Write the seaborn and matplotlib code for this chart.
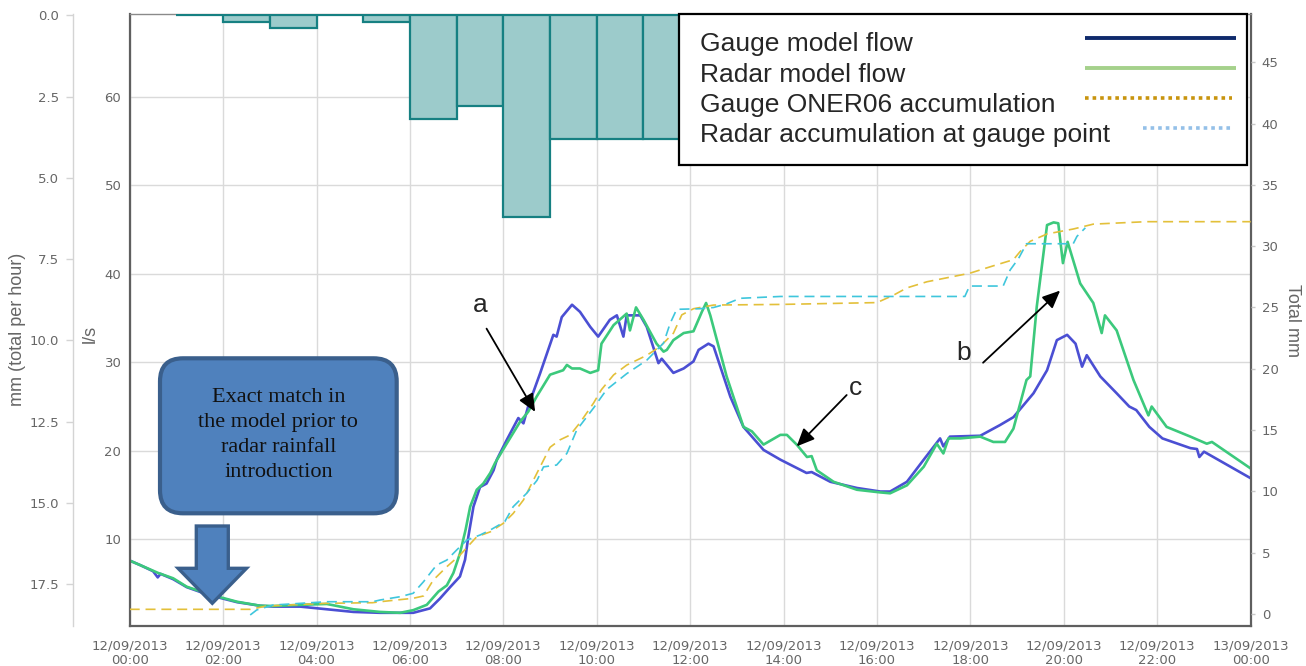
import numpy as np
import pandas as pd
import matplotlib
matplotlib.use("Agg")
import matplotlib.pyplot as plt
import seaborn as sns
from matplotlib.lines import Line2D
from matplotlib.legend_handler import HandlerLine2D
from matplotlib.patches import FancyBboxPatch, FancyArrow
from matplotlib.ticker import FuncFormatter, FormatStrFormatter, MultipleLocator

START = pd.Timestamp("2013-09-12 00:00")

# --------------------------------------------------------------------------- #
# Data (hours from 12/09/2013 00:00)
# --------------------------------------------------------------------------- #
# hourly gauge rainfall, bar covers [hour, hour + 1)
rain_hour = [1, 2, 3, 4, 5, 6, 7, 8, 9, 10, 11]
rain_mm = [0.0, 0.2, 0.4, 0.0, 0.2, 3.2, 2.8, 6.2, 3.8, 3.8, 3.8]

# gauge model flow (l/s)
gauge_flow_t = [0.0, 0.22, 0.5, 0.6, 0.66, 0.93, 1.22, 1.7, 2.3, 2.79, 3.08, 3.65,
                4.22, 4.79, 5.36, 6.07, 6.43, 6.64, 6.86, 7.07, 7.18, 7.25, 7.36,
                7.5, 7.64, 7.79, 7.86, 8.07, 8.32, 8.43, 8.53, 8.79, 9.07, 9.14, 9.25,
                9.47, 9.64, 9.86, 10.03, 10.28, 10.43, 10.57, 10.64, 10.93, 11.07,
                11.32, 11.39, 11.64, 11.86, 12.07, 12.18, 12.39, 12.5, 12.86, 13.14,
                13.57, 13.93, 14.49, 14.6, 15.0, 15.57, 16.07, 16.28, 16.64, 17.0,
                17.35, 17.42, 17.56, 18.21, 18.63, 18.92, 19.35, 19.64, 19.85, 20.07,
                20.25, 20.39, 20.49, 20.78, 21.13, 21.4, 21.55, 21.83, 22.11, 22.71,
                22.85, 22.9, 23.0, 24.0]
gauge_flow = [7.6, 7.1, 6.4, 5.7, 6.1, 5.5, 4.6, 3.7, 2.9, 2.5, 2.4, 2.4,
              2.1, 1.8, 1.7, 1.7, 2.2, 3.3, 4.6, 5.8, 7.7, 10.3, 13.7,
              15.9, 16.3, 17.8, 19.0, 21.2, 23.7, 23.1, 25.0, 28.8, 33.1, 32.9, 35.1,
              36.5, 35.7, 34.0, 32.9, 34.8, 35.3, 32.9, 35.3, 35.3, 34.0,
              29.9, 30.4, 28.8, 29.3, 30.1, 31.4, 32.1, 31.8, 26.1, 22.7,
              20.1, 19.0, 17.5, 17.6, 16.5, 15.8, 15.4, 15.4, 16.5, 19.0,
              21.4, 20.5, 21.6, 21.7, 22.9, 23.8, 26.5, 29.1, 32.5, 33.1,
              32.1, 29.5, 30.8, 28.4, 26.5, 25.0, 24.6, 22.7, 21.4, 20.3,
              20.2, 19.3, 19.9, 16.9]

# radar model flow (l/s)
radar_flow_t = [0.0, 0.22, 0.61, 0.93, 1.22, 1.7, 2.3, 2.79, 3.08, 3.65, 4.22, 4.79,
                5.36, 5.79, 6.07, 6.36, 6.61, 6.79, 6.93, 7.07, 7.19, 7.29, 7.43,
                7.57, 7.72, 7.82, 8.07, 8.36, 8.53, 8.71, 9.0, 9.28, 9.36, 9.47, 9.64,
                9.86, 10.03, 10.1, 10.36, 10.64, 10.71, 10.84, 11.0, 11.28, 11.43,
                11.5, 11.64, 11.86, 12.07, 12.25, 12.34, 12.43, 12.78, 13.14, 13.32,
                13.57, 13.93, 14.07, 14.28, 14.5, 14.6, 14.71, 15.07, 15.57, 16.07,
                16.28, 16.64, 17.0, 17.28, 17.42, 17.53, 17.78, 18.21, 18.49, 18.74,
                18.92, 19.2, 19.28, 19.42, 19.64, 19.78, 19.88, 19.98, 20.08, 20.35,
                20.63, 20.81, 20.88, 21.13, 21.49, 21.81, 21.88, 22.2, 22.71, 23.06,
                23.17, 24.0]
radar_flow = [7.6, 7.1, 6.2, 5.6, 4.65, 3.8, 2.95, 2.5, 2.47, 2.6, 2.7, 2.1,
              1.8, 1.7, 2.0, 2.6, 4.1, 4.8, 6.2, 8.4, 11.05, 13.7, 15.6,
              16.3, 17.5, 18.6, 20.8, 23.3, 24.4, 26.1, 28.6, 29.1, 29.7, 29.3, 29.3,
              28.8, 29.1, 32.1, 34.2, 35.5, 33.6, 36.2, 34.8, 32.1, 31.2,
              31.4, 32.5, 33.3, 33.5, 35.7, 36.7, 35.3, 28.4, 22.7, 22.2,
              20.7, 21.8, 21.8, 20.7, 19.3, 19.4, 17.8, 16.5, 15.6, 15.3,
              15.2, 16.1, 18.2, 20.8, 19.7, 21.4, 21.4, 21.6, 21.0, 21.0,
              22.5, 28.0, 28.4, 36.3, 45.5, 45.8, 45.7, 41.2, 43.6, 38.9,
              36.7, 33.3, 35.3, 33.6, 28.0, 24.0, 25.0, 22.7, 21.6, 20.8,
              21.0, 18.0]

# gauge ONER06 accumulation (total mm)
gauge_acc_t = [0.0, 2.58, 2.93, 4.22, 5.2, 5.36, 6.07, 6.29, 6.5, 6.79, 7.07, 7.43,
               7.72, 8.0, 8.21, 8.43, 8.72, 9.0, 9.21, 9.43, 9.64, 9.93, 10.1,
               10.36, 10.64, 11.07, 11.35, 11.64, 11.82, 12.07, 12.5, 13.93, 16.0,
               16.35, 16.64, 17.07, 17.99, 18.49, 18.92, 19.06, 19.28, 19.64, 20.2,
               20.63, 21.77, 24.0]
gauge_acc = [0.38, 0.38, 0.65, 0.87, 0.92, 1.0, 1.28, 1.47, 2.77, 3.86, 4.8, 6.3,
             6.7, 7.4, 8.2, 9.3, 11.5, 13.6, 14.2, 14.6, 15.6, 17.2, 18.3,
             19.5, 20.3, 21.1, 21.8, 22.9, 24.4, 24.9, 25.2, 25.25, 25.4,
             26.0, 26.6, 27.1, 27.8, 28.4, 28.9, 29.55, 30.4, 31.0, 31.4,
             31.8, 32.0, 32.0]

# radar accumulation at gauge point (total mm)
radar_acc_t = [2.58, 2.72, 3.07, 4.22, 5.2, 5.36, 5.79, 6.07, 6.29, 6.57, 6.79, 7.0,
               7.22, 7.5, 7.72, 8.03, 8.21, 8.5, 8.72, 8.86, 9.14, 9.36, 9.57, 9.93,
               10.21, 10.64, 11.07, 11.43, 11.57, 11.71, 12.21, 12.5, 12.78, 13.07,
               13.93, 17.88, 17.98, 18.7, 18.85, 19.03, 19.2, 20.2, 20.28, 20.46]
radar_acc = [-0.08, 0.33, 0.73, 1.0, 1.0, 1.14, 1.41, 1.69, 2.63, 3.99, 4.4, 5.22,
             6.03, 6.44, 6.85, 7.53, 8.75, 9.85, 10.9, 12.0, 12.15, 13.1, 15.0, 16.8,
             18.3, 19.6, 20.7, 22.1, 23.7, 24.85, 24.9, 25.0, 25.3, 25.75,
             25.9, 25.9, 26.75, 26.75, 28.06, 29.0, 30.2, 30.2, 30.8, 31.5]

# --------------------------------------------------------------------------- #
# Styling
# --------------------------------------------------------------------------- #
sns.set_style("white")
plt.rcParams["font.family"] = ["DejaVu Sans"]

BLUE = "#4b4fd3"
GREEN = "#3cc97c"
GOLD = "#e3c03a"
CYAN = "#3fc6dc"
BAR_FILL = "#9ccbcb"
BAR_EDGE = "#168082"
TICK_TXT = "#666666"
GRID = "#dadada"
FRAME = "#5f5f5f"

W, H = 1306, 666
fig = plt.figure(figsize=(W / 100, H / 100), dpi=100)
left, right, top, bottom = 129.7, 1250.7, 14, 626
ax = fig.add_axes([left / W, 1 - bottom / H, (right - left) / W, (bottom - top) / H])

# flows on the l/s axis
sns.lineplot(x=gauge_flow_t, y=gauge_flow, ax=ax, color=BLUE, linewidth=1.9)
sns.lineplot(x=radar_flow_t, y=radar_flow, ax=ax, color=GREEN, linewidth=1.9)

ax.set_xlim(0, 24)
ax.set_ylim(0.21, 69.34)
ax.xaxis.set_major_locator(MultipleLocator(2))
ax.set_yticks([10, 20, 30, 40, 50, 60])
ax.grid(True, color=GRID, linewidth=1.0)
ax.set_axisbelow(True)
ax.xaxis.set_major_formatter(FuncFormatter(
    lambda h, _: (START + pd.Timedelta(hours=h)).strftime("%d/%m/%Y\n%H:%M")))
ax.tick_params(axis="x", length=0, pad=10, labelsize=9.5, labelcolor=TICK_TXT)
ax.tick_params(axis="y", length=0, pad=6, labelsize=9.5, labelcolor=TICK_TXT)
for lab in ax.get_xticklabels():
    lab.set_linespacing(1.15)
ax.set_xlabel("")
ax.set_ylabel("l/s", family="Liberation Sans", fontsize=13, color=TICK_TXT, labelpad=4)
ax.yaxis.label.set_y(0.477)
for side in ["left", "right", "bottom"]:
    ax.spines[side].set_color(FRAME)
    ax.spines[side].set_linewidth(1.6)
ax.spines["top"].set_color("#8a8a8a")
ax.spines["top"].set_linewidth(1.0)

# rainfall bars on an inverted mm axis, spine pushed out to the left
ax_mm = ax.twinx()
sns.barplot(x=np.array(rain_hour) + 0.5, y=rain_mm, native_scale=True, width=1.0,
            errorbar=None, saturation=1, ax=ax_mm, color=BAR_FILL,
            edgecolor=BAR_EDGE, linewidth=1.6)
ax_mm.set_xlim(0, 24)
ax_mm.set_ylim(18.78, -0.04)
ax_mm.yaxis.tick_left()
ax_mm.yaxis.set_label_position("left")
ax_mm.set_yticks(np.arange(0, 17.6, 2.5))
ax_mm.yaxis.set_major_formatter(FormatStrFormatter("%.1f"))
for side in ["right", "top", "bottom"]:
    ax_mm.spines[side].set_visible(False)
ax_mm.spines["left"].set_visible(True)
ax_mm.spines["left"].set_position(("outward", 41))   # points, ~57 px
ax_mm.spines["left"].set_color("#d4d4d4")
ax_mm.spines["left"].set_linewidth(1.0)
ax_mm.tick_params(axis="y", length=5, width=1, color="#d4d4d4", pad=5,
                  labelsize=9.5, labelcolor=TICK_TXT)
ax_mm.tick_params(axis="x", length=0, labelbottom=False)
ax_mm.set_xlabel("")
ax_mm.set_ylabel("mm (total per hour)", family="Liberation Sans", fontsize=13,
                 color=TICK_TXT, labelpad=2)
ax_mm.yaxis.label.set_y(0.485)

# accumulations on the right-hand axis
ax_tot = ax.twinx()
sns.lineplot(x=gauge_acc_t, y=gauge_acc, ax=ax_tot, color=GOLD, linewidth=1.2,
             linestyle=(0, (6, 3.5)))
sns.lineplot(x=radar_acc_t, y=radar_acc, ax=ax_tot, color=CYAN, linewidth=1.2,
             linestyle=(0, (6, 3.5)))
ax_tot.set_xlim(0, 24)
ax_tot.set_ylim(-0.98, 48.94)
ax_tot.set_yticks(np.arange(0, 46, 5))
for side in ax_tot.spines:
    ax_tot.spines[side].set_visible(False)
ax_tot.tick_params(axis="y", length=3, width=1, color="#c8c8c8", pad=5,
                   labelsize=9.5, labelcolor=TICK_TXT)
ax_tot.set_ylabel("Total mm", family="Liberation Sans", fontsize=13, color=TICK_TXT,
                  rotation=270, va="bottom", labelpad=4)


# --------------------------------------------------------------------------- #
# Legend (copy of the pasted key box: labels left, key samples on the right)
# --------------------------------------------------------------------------- #
class KeyOnRight(HandlerLine2D):
    def __init__(self, start, stop):
        super().__init__()
        self.start, self.stop = start, stop

    def create_artists(self, legend, orig_handle, xdescent, ydescent,
                       width, height, fontsize, trans):
        y = height * 0.75 - ydescent
        line = Line2D([self.start, self.stop], [y, y])
        self.update_prop(line, orig_handle, legend)
        line.set_transform(trans)
        return [line]


key_handles = [
    Line2D([], [], color="#0f2a6b", linewidth=2.8, solid_capstyle="butt"),
    Line2D([], [], color="#a5d18b", linewidth=2.8, solid_capstyle="butt"),
    Line2D([], [], color="#c8940e", linewidth=2.6, linestyle=(0, (1, 1.1)),
           dash_capstyle="butt"),
    Line2D([], [], color="#94c0e8", linewidth=2.6, linestyle=(0, (1, 1.1)),
           dash_capstyle="butt"),
]
key_labels = ["Gauge model flow", "Radar model flow", "Gauge ONER06 accumulation",
              "Radar accumulation at gauge point"]
key_map = {
    key_handles[0]: KeyOnRight(279, 388),
    key_handles[1]: KeyOnRight(279, 388),
    key_handles[2]: KeyOnRight(279, 385),
    key_handles[3]: KeyOnRight(321, 385),
}
leg = ax_tot.legend(key_handles, key_labels, handler_map=key_map,
                    loc="upper left", bbox_to_anchor=(0.490, 0.0, 0.5067, 1.0),
                    mode="expand", borderaxespad=0, borderpad=0.7,
                    handlelength=0, handletextpad=0.1, labelspacing=0.23,
                    fancybox=False, framealpha=1, edgecolor="black",
                    prop={"family": "Liberation Sans", "size": 19})
leg.get_frame().set_linewidth(1.6)

# --------------------------------------------------------------------------- #
# Annotations
# --------------------------------------------------------------------------- #
arrow_kw = dict(arrowstyle="-|>,head_length=0.45,head_width=0.2", color="black",
                lw=1.3, mutation_scale=24, shrinkA=0, shrinkB=0)
notes = [("a", (7.50, 36.5), (7.64, 33.8), (8.68, 24.4)),
         ("b", (17.85, 31.0), (18.27, 29.95), (19.92, 38.1)),
         ("c", (15.53, 27.1), (15.35, 26.3), (14.28, 20.5))]
for txt, pos, tail, tip in notes:
    ax.text(*pos, txt, fontsize=19, family="Liberation Sans", ha="center", va="center")
    ax.annotate("", xy=tip, xytext=tail, arrowprops=arrow_kw)

# call-out box and block arrow (pixel layout of the original)
box = FancyBboxPatch((160 / W, 1 - 513.3 / H), 236.7 / W, 155 / H,
                     boxstyle=f"round,pad=0,rounding_size={23 / W}",
                     mutation_aspect=W / H, transform=fig.transFigure,
                     facecolor="#4f81bd", edgecolor="#3a5f8c", linewidth=3)
fig.add_artist(box)
fig.text(278.4 / W, 1 - 435 / H,
         "Exact match in\nthe model prior to\nradar rainfall\nintroduction",
         ha="center", va="center", family="Liberation Serif", fontsize=16,
         color="#111111", linespacing=1.45)
down = FancyArrow(212.3 / W, 1 - 526 / H, 0, -(603.3 - 526) / H,
                  width=32 / W, head_width=68.4 / W, head_length=35 / H,
                  length_includes_head=True, transform=fig.transFigure,
                  facecolor="#4f81bd", edgecolor="#3a5f8c", linewidth=2.4)
fig.add_artist(down)

fig.savefig("out.png", dpi=100)
